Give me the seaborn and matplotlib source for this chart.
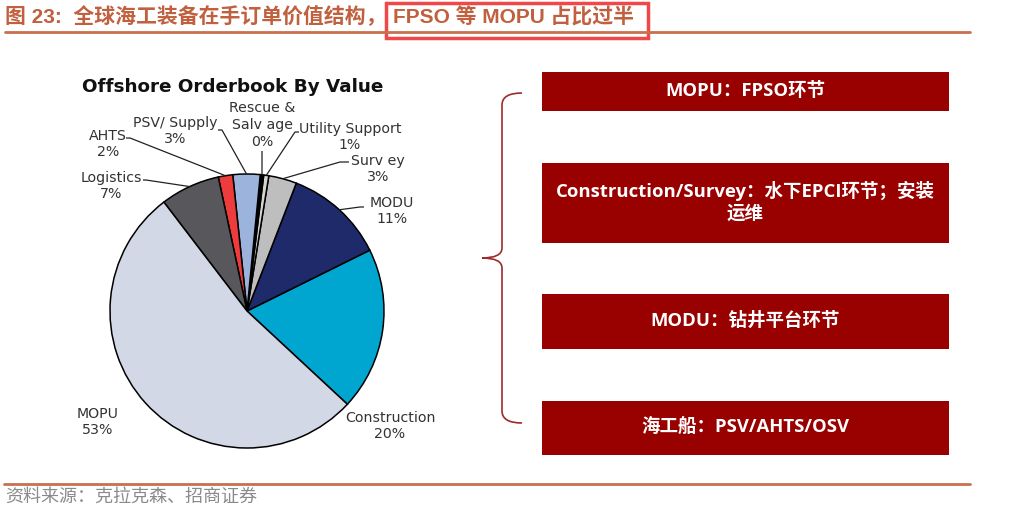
import matplotlib
matplotlib.use("Agg")
import matplotlib.pyplot as plt
import matplotlib.patches as mpatches
from matplotlib.path import Path
import numpy as np
import seaborn as sns

# ---- data ----
segments = ["Construction", "MODU", "Surv ey", "Utility Support", "Rescue &\nSalv age",
            "PSV/ Supply", "AHTS", "Logistics", "MOPU"]
shares = [19.2, 11.8, 3.3, 0.6, 0.4, 3.2, 1.7, 7.0, 52.6]
share_labels = ["20%", "11%", "3%", "1%", "0%", "3%", "2%", "7%", "53%"]
seg_colors = ["#00A6CF", "#1F2A6B", "#BEBEBE", "#D4D4D4", "#000000",
              "#9CB3DC", "#EE3B3B", "#58585C", "#D3D8E6"]

box_texts = ["MOPU：FPSO环节",
             "Construction/Survey：水下EPCI环节；安装\n运维",
             "MODU：钻井平台环节",
             "海工船：PSV/AHTS/OSV"]

header_left = "图 23:  全球海工装备在手订单价值结构，"
header_right = "FPSO 等 MOPU 占比过半"
source = "资料来源：克拉克森、招商证券"

sns.set_theme(style="white")
plt.rcParams["font.family"] = ["DejaVu Sans", "Noto Sans CJK SC"]

W, H = 1027, 512
fig = plt.figure(figsize=(W / 100, H / 100), dpi=100)
ax = fig.add_axes([0, 0, 1, 1])


def Y(y):
    # image row -> data y
    return H - y


# ---- pie ----
cx, cy, r = 247, 311, 137
wedges, _ = ax.pie(shares, colors=seg_colors, startangle=-42.9, counterclock=True,
                   center=(cx, Y(cy)), radius=r,
                   wedgeprops=dict(edgecolor="black", linewidth=1.1))

ax.text(233, Y(87), "Offshore Orderbook By Value", ha="center", va="center",
        fontsize=13.2, fontweight="bold", color="#111111")

# label text centre (image coords) and leader elbow (None = no leader)
label_pos = {
    "Construction": ((390, 426), None),
    "MODU": ((392, 211), (360, 207)),
    "Surv ey": ((378, 169), (340, 162)),
    "Utility Support": ((350, 137), (295, 132)),
    "Rescue &\nSalv age": ((262, 125), (262, 151)),
    "PSV/ Supply": ((175, 131), (222, 130)),
    "AHTS": ((108, 144), (130, 138)),
    "Logistics": ((111, 186), (146, 180)),
    "MOPU": ((98, 422), None),
}
label_starts = {
    "MODU": (364, 207), "Surv ey": (349, 162), "Utility Support": (299, 132),
    "Rescue &\nSalv age": (262, 151), "PSV/ Supply": (218, 130),
    "AHTS": (126, 138), "Logistics": (143, 180),
}

for seg, lab, w in zip(segments, share_labels, wedges):
    (tx, ty), elbow = label_pos[seg]
    ax.text(tx, Y(ty), f"{seg}\n{lab}", ha="center", va="center", fontsize=10.2,
            color="#333333", linespacing=1.25)
    if elbow is not None:
        mid = np.deg2rad((w.theta1 + w.theta2) / 2)
        ex, ey = cx + r * np.cos(mid), Y(cy) + r * np.sin(mid)
        sx, sy = label_starts[seg]
        ax.plot([sx, elbow[0], ex], [Y(sy), Y(elbow[1]), ey],
                color="#222222", lw=0.9, solid_capstyle="butt")

# ---- brace ----
verts = [(522, Y(93)), (502, Y(93)), (502, Y(105)),
         (502, Y(248)),
         (502, Y(258)), (482, Y(258)),
         (502, Y(258)), (502, Y(268)),
         (502, Y(411)),
         (502, Y(423)), (522, Y(423))]
codes = [Path.MOVETO, Path.CURVE3, Path.CURVE3, Path.LINETO,
         Path.CURVE3, Path.CURVE3, Path.CURVE3, Path.CURVE3,
         Path.LINETO, Path.CURVE3, Path.CURVE3]
ax.add_patch(mpatches.PathPatch(Path(verts, codes), fill=False,
                                edgecolor="#9E2A2A", lw=1.2))

# ---- red boxes ----
box_rows = [(72, 111), (163, 243), (294, 349), (401, 455)]
for txt, (top, bot) in zip(box_texts, box_rows):
    ax.add_patch(mpatches.Rectangle((542, Y(bot)), 407, bot - top,
                                    facecolor="#990000", edgecolor="none"))
    ax.text(745, Y((top + bot) / 2 - 1), txt, ha="center", va="center",
            fontsize=13.3, fontweight="bold", color="white", linespacing=1.25,
            family=["Open Sans", "Noto Sans CJK SC"])

# ---- header / footer ----
hdr_font = dict(fontsize=15, fontweight="bold", color="#C0603E",
                family=["Liberation Sans", "Noto Sans CJK SC"], va="center", ha="left")
ax.text(5, Y(17), header_left, **hdr_font)
ax.text(393, Y(17), header_right, **hdr_font)
ax.plot([5, 970], [Y(32), Y(32)], color="#C8704F", lw=2)
ax.add_patch(mpatches.Rectangle((386, Y(38)), 262, 35, fill=False,
                                edgecolor="#F04848", lw=2.5))
ax.plot([4, 970], [Y(484), Y(484)], color="#C8704F", lw=2)
ax.text(5, Y(497), source, ha="left", va="center", fontsize=13,
        color="#8A8A8A", fontweight="light", family=["Noto Sans CJK SC"])

ax.set_xlim(0, W)
ax.set_ylim(0, H)
ax.set_aspect("auto")
ax.axis("off")

fig.savefig("out.png", dpi=100, facecolor="white")
